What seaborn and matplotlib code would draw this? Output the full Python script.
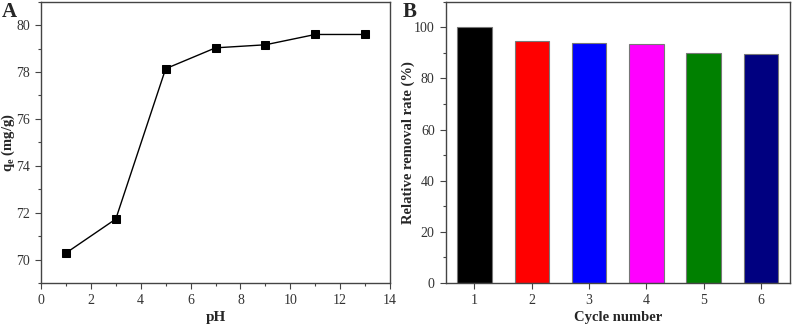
import matplotlib
matplotlib.use('Agg')
import matplotlib.pyplot as plt
import seaborn as sns
import pandas as pd
from matplotlib.ticker import MultipleLocator

# data
ph = [1, 3, 5, 7, 9, 11, 13]
qe = [70.28, 71.73, 78.14, 79.03, 79.16, 79.60, 79.60]

cycles = ['1', '2', '3', '4', '5', '6']
removal = [100.0, 94.8, 93.9, 93.5, 90.1, 89.6]
bar_colors = ['#000000', '#ff0000', '#0000ff', '#ff00ff', '#008000', '#000080']

sns.set_style('ticks')
plt.rcParams['font.family'] = ['Liberation Serif', 'DejaVu Serif']
plt.rcParams['axes.edgecolor'] = '#444444'
plt.rcParams['axes.linewidth'] = 1.0

fig = plt.figure(figsize=(7.96, 3.28), dpi=100)
ax1 = fig.add_axes([0.0515, 0.137, 0.4385, 0.858])
ax2 = fig.add_axes([0.560, 0.137, 0.432, 0.858])

# A: qe vs pH
df1 = pd.DataFrame({'pH': ph, 'qe': qe})
sns.lineplot(data=df1, x='pH', y='qe', ax=ax1, color='black', linewidth=1.0,
             marker='s', markersize=5.5, markeredgecolor='black')
ax1.set_xlim(0, 14)
ax1.set_ylim(69, 81)
ax1.xaxis.set_major_locator(MultipleLocator(2))
ax1.xaxis.set_minor_locator(MultipleLocator(1))
ax1.yaxis.set_major_locator(MultipleLocator(2))
ax1.yaxis.set_minor_locator(MultipleLocator(1))
ax1.set_xlabel('pH', fontsize=11, fontweight='bold')
ax1.set_ylabel(r'q$_\mathregular{e}$ (mg/g)', fontsize=10.5, fontweight='bold')
ax1.yaxis.set_label_coords(-0.07, 0.5)
ax1.xaxis.set_label_coords(0.5, -0.1)
ax1.text(-0.112, 1.0, 'A', transform=ax1.transAxes, fontsize=15,
         fontweight='bold', va='top', ha='left')

# B: relative removal rate
df2 = pd.DataFrame({'cycle': cycles, 'rate': removal})
sns.barplot(data=df2, x='cycle', y='rate', hue='cycle', palette=bar_colors,
            legend=False, width=0.6, edgecolor='#777777', linewidth=0.8,
            saturation=1, ax=ax2)
ax2.set_xlim(-0.5, 5.5)
ax2.set_ylim(0, 110)
ax2.yaxis.set_major_locator(MultipleLocator(20))
ax2.yaxis.set_minor_locator(MultipleLocator(10))
ax2.set_xlabel('Cycle number', fontsize=10.5, fontweight='bold')
ax2.set_ylabel('Relative removal rate (%)', fontsize=10.5, fontweight='bold')
ax2.yaxis.set_label_coords(-0.09, 0.5)
ax2.xaxis.set_label_coords(0.5, -0.1)
ax2.text(-0.125, 1.0, 'B', transform=ax2.transAxes, fontsize=15,
         fontweight='bold', va='top', ha='left')

for ax in (ax1, ax2):
    for s in ax.spines.values():
        s.set_visible(True)
    ax.tick_params(which='major', direction='out', length=4, width=0.8,
                   labelsize=10, pad=4, colors='#444444', labelcolor='#333333')
    ax.tick_params(which='minor', direction='out', length=2.5, width=0.8,
                   colors='#444444')
ax2.tick_params(axis='x', which='minor', bottom=False)

plt.savefig('out.png', dpi=100)
